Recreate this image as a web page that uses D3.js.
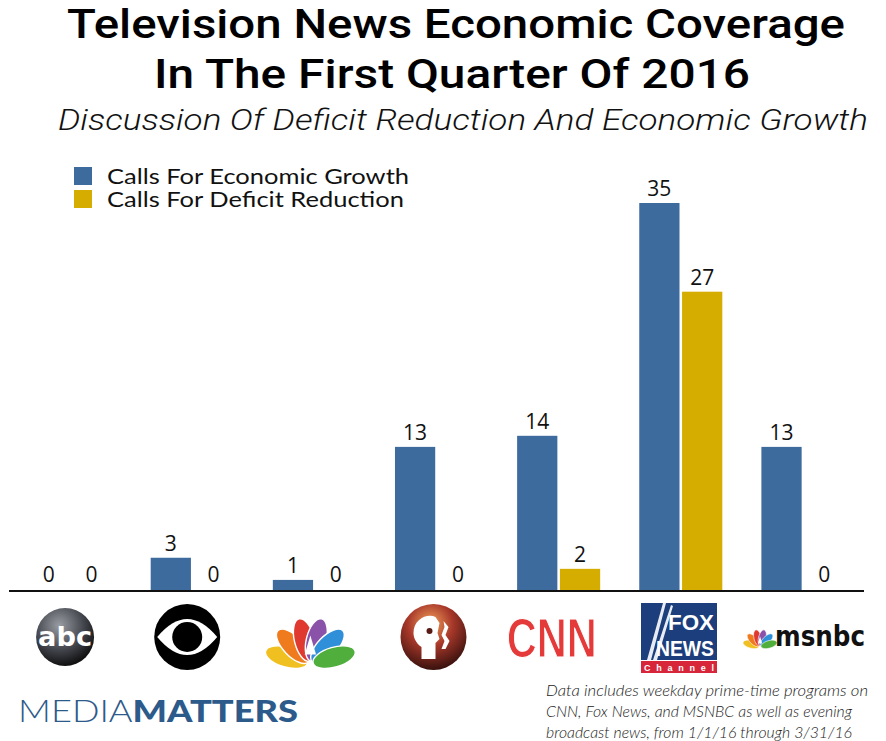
<!DOCTYPE html>
<html><head><meta charset="utf-8">
<script src="https://cdn.jsdelivr.net/npm/d3@7"></script>
<style>body{margin:0;background:#fff}svg{display:block}</style>
</head><body>
<svg id="chart" width="886" height="741"></svg>
<script>
const networks = ["ABC", "CBS", "NBC", "PBS", "CNN", "Fox News", "MSNBC"];
const seriesNames = ["Calls For Economic Growth", "Calls For Deficit Reduction"];
const growth = [0, 3, 1, 13, 14, 35, 13];
const deficit = [0, 0, 0, 0, 2, 27, 0];
const colors = ["#3d6b9e", "#d4ad00"];

const svg = d3.select("#chart");
const FONT = "Lato, 'Open Sans', sans-serif";

// Title
svg.append("text").attr("x", 456).attr("y", 38).attr("text-anchor", "middle")
  .attr("font-family", "Roboto, sans-serif").attr("font-weight", 500).attr("font-size", 41)
  .attr("textLength", 778).attr("lengthAdjust", "spacingAndGlyphs").attr("fill", "#000")
  .text("Television News Economic Coverage");
svg.append("text").attr("x", 452).attr("y", 88).attr("text-anchor", "middle")
  .attr("font-family", "Roboto, sans-serif").attr("font-weight", 500).attr("font-size", 41)
  .attr("textLength", 596).attr("lengthAdjust", "spacingAndGlyphs").attr("fill", "#000")
  .text("In The First Quarter Of 2016");
svg.append("text").attr("x", 463).attr("y", 130).attr("text-anchor", "middle")
  .attr("font-family", "Roboto, sans-serif").attr("font-weight", 300).attr("font-style", "italic").attr("font-size", 30)
  .attr("textLength", 810).attr("lengthAdjust", "spacingAndGlyphs").attr("fill", "#111")
  .text("Discussion Of Deficit Reduction And Economic Growth");

// Scales
const baseY = 591;
const x0 = d3.scaleBand().domain(networks).range([9, 864]).paddingInner(0.32).paddingOuter(0.16);
const x1 = d3.scaleBand().domain(seriesNames).range([0, x0.bandwidth()]).paddingInner(0.06);
const y = d3.scaleLinear().domain([0, 35]).range([baseY, 203]);

const rows = networks.map((n, i) => ({ net: n, vals: [
  { s: seriesNames[0], v: growth[i], c: colors[0] },
  { s: seriesNames[1], v: deficit[i], c: colors[1] }
]}));

const g = svg.selectAll("g.grp").data(rows).join("g").attr("class", "grp")
  .attr("transform", d => `translate(${x0(d.net)},0)`);
g.selectAll("rect").data(d => d.vals).join("rect")
  .attr("x", d => x1(d.s)).attr("width", x1.bandwidth())
  .attr("y", d => y(d.v)).attr("height", d => baseY - y(d.v)).attr("fill", d => d.c);
g.selectAll("text.val").data(d => d.vals).join("text").attr("class", "val")
  .attr("x", d => x1(d.s) + x1.bandwidth() / 2).attr("y", d => y(d.v) - (d.v === 0 ? 9 : 7))
  .attr("text-anchor", "middle").attr("font-family", "'Open Sans', sans-serif").attr("font-weight", 400)
  .attr("font-size", 21).attr("fill", "#111")
  .text(d => d.v);

// axis baseline
const xAxis = d3.axisBottom(x0).tickSize(0).tickFormat("");
svg.append("g").attr("transform", `translate(0,${baseY})`).call(xAxis)
  .call(a => a.select(".domain").attr("stroke", "#111").attr("stroke-width", 2).attr("d", "M9,0H864"));

// Legend
const legLen = [302, 297];
const leg = svg.append("g");
seriesNames.forEach((s, i) => {
  leg.append("rect").attr("x", 74).attr("y", 167 + i * 23).attr("width", 18).attr("height", 18).attr("fill", colors[i]);
  leg.append("text").attr("x", 107).attr("y", 184 + i * 23).attr("font-family", FONT).attr("font-size", 21)
    .attr("textLength", legLen[i]).attr("lengthAdjust", "spacingAndGlyphs")
    .attr("fill", "#111").text(s);
});

// ---- Logos ----
const defs = svg.append("defs");
const cx = n => x0(n) + x0.bandwidth() / 2;
const ly = 637;

// ABC
const abcG = defs.append("radialGradient").attr("id", "abcg").attr("cx", "40%").attr("cy", "30%").attr("r", "70%");
abcG.append("stop").attr("offset", "0%").attr("stop-color", "#9a9ca4");
abcG.append("stop").attr("offset", "60%").attr("stop-color", "#44464e");
abcG.append("stop").attr("offset", "100%").attr("stop-color", "#111");
svg.append("circle").attr("cx", cx("ABC") - 5).attr("cy", ly).attr("r", 29).attr("fill", "url(#abcg)");
svg.append("text").attr("x", cx("ABC") - 5).attr("y", ly + 9).attr("text-anchor", "middle")
  .attr("font-family", "'DejaVu Sans', sans-serif").attr("font-weight", "bold").attr("font-size", 27)
  .attr("textLength", 54).attr("lengthAdjust", "spacingAndGlyphs").attr("fill", "#fff").text("abc");

// CBS
const cbx = cx("CBS") - 5;
svg.append("circle").attr("cx", cbx).attr("cy", ly).attr("r", 33).attr("fill", "#000");
svg.append("path").attr("d", `M${cbx - 30},${ly} Q${cbx},${ly - 36} ${cbx + 30},${ly} Q${cbx},${ly + 36} ${cbx - 30},${ly}Z`).attr("fill", "#fff");
svg.append("circle").attr("cx", cbx).attr("cy", ly).attr("r", 15).attr("fill", "#000");

// NBC peacock
function peacock(px, py, sc) {
  const fc = ["#f0c020", "#f07a1e", "#e03a30", "#8a52a8", "#2f8fd8", "#4fae3c"];
  const ang = [-74, -44, -14, 14, 44, 74];
  const pg = svg.append("g").attr("transform", `translate(${px},${py}) scale(${sc})`);
  ang.forEach((a, i) => {
    pg.append("ellipse").attr("cx", 0).attr("cy", -26).attr("rx", 10.5).attr("ry", 23)
      .attr("transform", `rotate(${a}) `).attr("fill", fc[i]).attr("stroke", "#fff").attr("stroke-width", 1.5);
  });
  pg.append("path").attr("d", "M-6,-10 L0,-30 L6,-10 Z").attr("fill", "#fff");
}
peacock(cx("NBC") - 4, 664, 0.95);

// PBS
const pbG = defs.append("radialGradient").attr("id", "pbg").attr("cx", "45%").attr("cy", "30%").attr("r", "75%");
pbG.append("stop").attr("offset", "0%").attr("stop-color", "#f3a25a");
pbG.append("stop").attr("offset", "45%").attr("stop-color", "#a8382a");
pbG.append("stop").attr("offset", "100%").attr("stop-color", "#2a0c0a");
const pbx = cx("PBS") - 3;
svg.append("circle").attr("cx", pbx).attr("cy", ly).attr("r", 33).attr("fill", "url(#pbg)");
svg.append("path").attr("fill", "#fff").attr("d",
  `M${pbx - 20},${ly - 4} C${pbx - 20},${ly - 18} ${pbx - 6},${ly - 24} ${pbx + 2},${ly - 20} L${pbx + 6},${ly - 14} L${pbx + 4},${ly - 4} L${pbx + 6},${ly + 2} L${pbx + 2},${ly + 6} L${pbx + 2},${ly + 22} L${pbx - 12},${ly + 22} L${pbx - 12},${ly + 10} C${pbx - 18},${ly + 6} ${pbx - 20},${ly} ${pbx - 20},${ly - 4}Z`);
svg.append("circle").attr("cx", pbx - 4).attr("cy", ly - 6).attr("r", 3).attr("fill", "#5a1a14");
svg.append("path").attr("fill", "#fff").attr("d",
  `M${pbx + 10},${ly - 16} L${pbx + 15},${ly - 10} L${pbx + 12},${ly - 2} L${pbx + 16},${ly + 4} L${pbx + 12},${ly + 12} L${pbx + 8},${ly + 12} L${pbx + 11},${ly + 4} L${pbx + 8},${ly - 2} L${pbx + 11},${ly - 10} Z`);

// CNN
svg.append("text").attr("x", cx("CNN") - 7).attr("y", ly + 20).attr("text-anchor", "middle")
  .attr("font-family", "'Liberation Sans', Arial, sans-serif").attr("font-weight", "bold").attr("font-size", 56)
  .attr("textLength", 90).attr("lengthAdjust", "spacingAndGlyphs")
  .attr("fill", "#e53a3a").attr("stroke", "#fff").attr("stroke-width", 1.2).text("CNN");

// Fox News
const fx = 641;
svg.append("rect").attr("x", fx).attr("y", 603).attr("width", 76).attr("height", 57).attr("fill", "#1d3e7c");
svg.append("path").attr("d", `M${fx + 6},660 L${fx + 22},603 L${fx + 25},603 L${fx + 10},660Z M${fx + 12},660 L${fx + 30},605 L${fx + 32},606 L${fx + 16},660Z`).attr("fill", "#fff").attr("opacity", 0.9);
svg.append("text").attr("x", fx + 73).attr("y", 630).attr("text-anchor", "end")
  .attr("font-family", "'Liberation Sans', sans-serif").attr("font-weight", "bold").attr("font-size", 22)
  .attr("textLength", 46).attr("lengthAdjust", "spacingAndGlyphs").attr("fill", "#fff").text("FOX");
svg.append("text").attr("x", fx + 73).attr("y", 656).attr("text-anchor", "end")
  .attr("font-family", "'Liberation Sans', sans-serif").attr("font-weight", "bold").attr("font-size", 22)
  .attr("textLength", 58).attr("lengthAdjust", "spacingAndGlyphs").attr("fill", "#fff").text("NEWS");
svg.append("rect").attr("x", fx).attr("y", 661).attr("width", 76).attr("height", 12).attr("fill", "#d7263a");
svg.append("text").attr("x", fx + 38).attr("y", 671).attr("text-anchor", "middle")
  .attr("font-family", "'Liberation Sans', sans-serif").attr("font-weight", "bold").attr("font-size", 9)
  .attr("textLength", 70).attr("lengthAdjust", "spacing").attr("fill", "#fff").text("Channel");

// MSNBC
peacock(760, 647, 0.36);
svg.append("text").attr("x", 775).attr("y", 646).attr("font-family", "'DejaVu Sans', sans-serif")
  .attr("font-weight", "bold").attr("font-size", 29).attr("textLength", 90).attr("lengthAdjust", "spacingAndGlyphs")
  .attr("fill", "#111").text("msnbc");

// Media Matters
const mm = svg.append("text").attr("x", 18).attr("y", 722).attr("font-family", "Lato, sans-serif")
  .attr("font-size", 31).attr("fill", "#2c5a8a").attr("textLength", 280).attr("lengthAdjust", "spacingAndGlyphs");
mm.append("tspan").attr("font-weight", 300).text("MEDIA");
mm.append("tspan").attr("font-weight", 900).text("MATTERS");

// Footnote
const notes = ["Data includes weekday prime-time programs on",
  "CNN, Fox News, and MSNBC as well as evening",
  "broadcast news, from 1/1/16 through 3/31/16"];
const nlen = [322, 306, 306];
notes.forEach((t, i) => {
  svg.append("text").attr("x", 546).attr("y", 696 + i * 21).attr("font-family", FONT)
    .attr("font-style", "italic").attr("font-weight", 300).attr("font-size", 15).attr("fill", "#222")
    .attr("textLength", nlen[i]).attr("lengthAdjust", "spacingAndGlyphs").text(t);
});
</script>
</body></html>
